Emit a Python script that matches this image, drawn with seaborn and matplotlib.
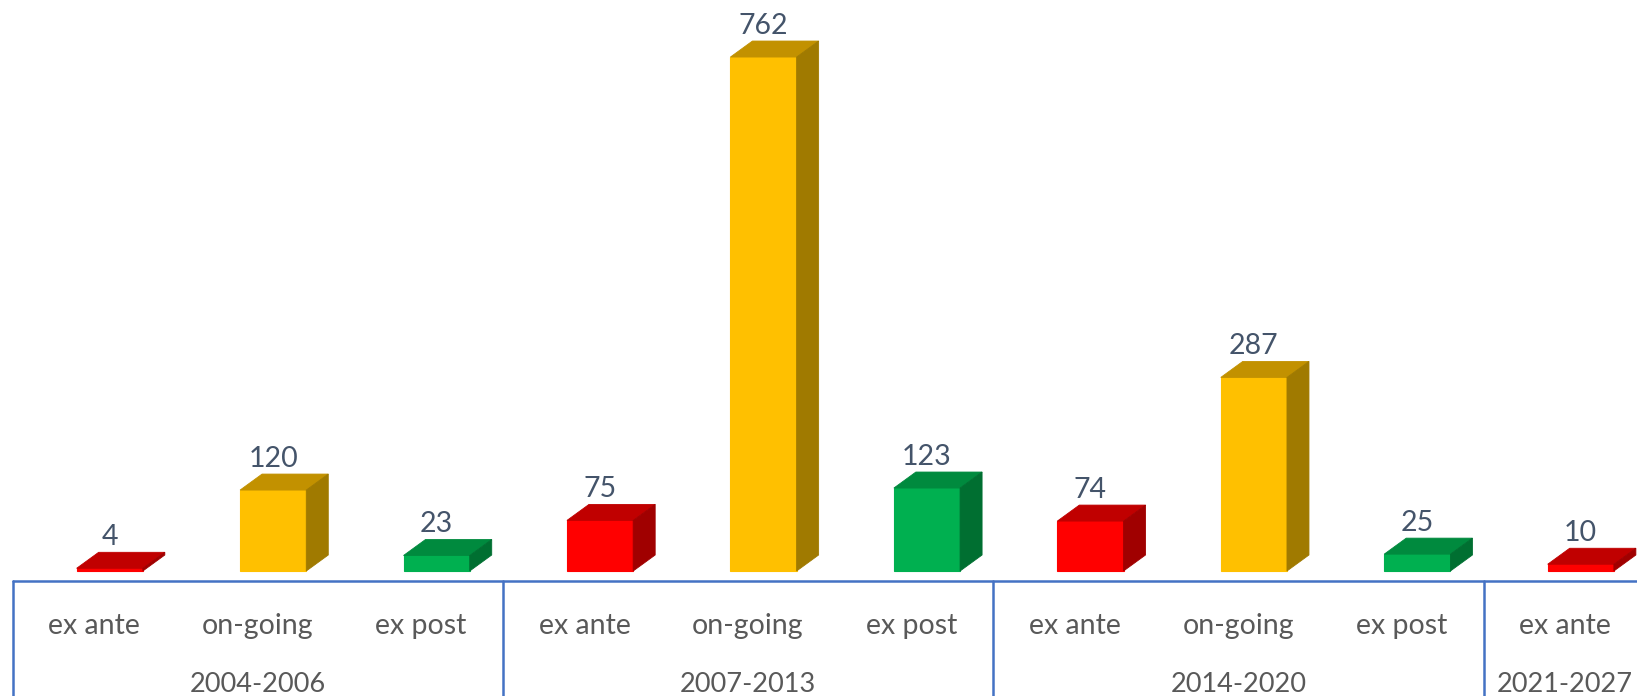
import numpy as np
import pandas as pd
import matplotlib
matplotlib.use("Agg")
import matplotlib.pyplot as plt
import seaborn as sns
from matplotlib.patches import Polygon

# ---- data ----
periods = ["2004-2006", "2007-2013", "2014-2020", "2021-2027"]
types = ["ex ante", "on-going", "ex post"]
category_period = ["2004-2006"] * 3 + ["2007-2013"] * 3 + ["2014-2020"] * 3 + ["2021-2027"]
category_type = ["ex ante", "on-going", "ex post"] * 3 + ["ex ante"]
values = [4, 120, 23, 75, 762, 123, 74, 287, 25, 10]

front_colors = {"ex ante": "#FF0000", "on-going": "#FFC000", "ex post": "#00B050"}
top_colors = {"ex ante": "#C00000", "on-going": "#C29100", "ex post": "#008A3E"}
side_colors = {"ex ante": "#A00000", "on-going": "#A07A00", "ex post": "#006F31"}

df = pd.DataFrame({
    "cat": [f"{p}|{t}|{i}" for i, (p, t) in enumerate(zip(category_period, category_type))],
    "type": category_type,
    "value": values,
})

sns.set_theme(style="white")
plt.rcParams["font.family"] = ["Lato", "DejaVu Sans"]

W, H, DPI = 1637, 696, 100
fig = plt.figure(figsize=(W / DPI, H / DPI), dpi=DPI)
fig.patch.set_facecolor("white")

axis_y_px = 581
left_px, right_px = 12.5, 1647
ax = fig.add_axes([left_px / W, (H - axis_y_px) / H, (right_px - left_px) / W, axis_y_px / H])
ax.set_facecolor("none")

px_per_unit = 0.6745
base_gap_px = 10
ax.set_ylim(-base_gap_px / px_per_unit, (axis_y_px - base_gap_px) / px_per_unit)
ax.set_xlim(-0.5, len(values) - 0.5)

sns.barplot(data=df, x="cat", y="value", hue="type", palette=front_colors,
            dodge=False, width=0.405, ax=ax, legend=False, saturation=1,
            order=df["cat"].tolist())
ax.set_xlabel("")
ax.set_ylabel("")

fig.canvas.draw()

slot_px = (right_px - left_px) / len(values)
shift_units = 15.5 / slot_px
depth_dx, depth_dy = 22, 16   # pixels

bars = sorted([b for b in ax.patches if b.get_width() > 0], key=lambda p: p.get_x())[:len(values)]

for b, t, v in zip(bars, category_type, values):
    b.set_x(b.get_x() + shift_units)
    b.set_edgecolor(front_colors[t])
    b.set_linewidth(0.8)
    x0, x1 = b.get_x(), b.get_x() + b.get_width()
    y1 = b.get_height()
    trans = ax.transData
    (dx0, dy0) = trans.transform((x0, 0))
    (dx1, dy1) = trans.transform((x1, y1))
    top = Polygon([(dx0, dy1), (dx1, dy1), (dx1 + depth_dx, dy1 + depth_dy), (dx0 + depth_dx, dy1 + depth_dy)],
                  closed=True, transform=None, facecolor=top_colors[t], edgecolor=top_colors[t],
                  linewidth=0.6, zorder=3)
    side = Polygon([(dx1, dy0), (dx1, dy1), (dx1 + depth_dx, dy1 + depth_dy), (dx1 + depth_dx, dy0 + depth_dy)],
                   closed=True, transform=None, facecolor=side_colors[t], edgecolor=side_colors[t],
                   linewidth=0.6, zorder=3)
    fig.add_artist(top)
    fig.add_artist(side)
    ax.annotate(str(v), xy=((x0 + x1) / 2, y1), xytext=(0, depth_dy + 15.5),
                textcoords="offset pixels", ha="center", va="center",
                fontsize=20.5, color="#44546A")

ax.axhline(ax.get_ylim()[0], color="#4472C4", lw=1.8, clip_on=False)
ax.set_xticks([])
ax.set_yticks([])
for s in ax.spines.values():
    s.set_visible(False)

label_y1 = -(626 - axis_y_px) / axis_y_px
label_y2 = -(685 - axis_y_px) / axis_y_px
xt = ax.get_xaxis_transform()
for i, t in enumerate(category_type):
    ax.text(i, label_y1, t, transform=xt, ha="center", va="center",
            fontsize=20.5, color="#595959", clip_on=False)

start = 0
bounds = []
for p in periods:
    n = category_period.count(p)
    center = start + (n - 1) / 2
    ax.text(center, label_y2, p, transform=xt, ha="center", va="center",
            fontsize=19.5, color="#595959", clip_on=False)
    bounds.append(start - 0.5)
    start += n
bounds.append(start - 0.5)
for bx in bounds:
    ax.plot([bx, bx], [0, -(H - axis_y_px) / axis_y_px - 0.01], transform=xt,
            color="#4472C4", lw=1.8, clip_on=False)

fig.savefig("out.png", dpi=DPI, facecolor="white")
